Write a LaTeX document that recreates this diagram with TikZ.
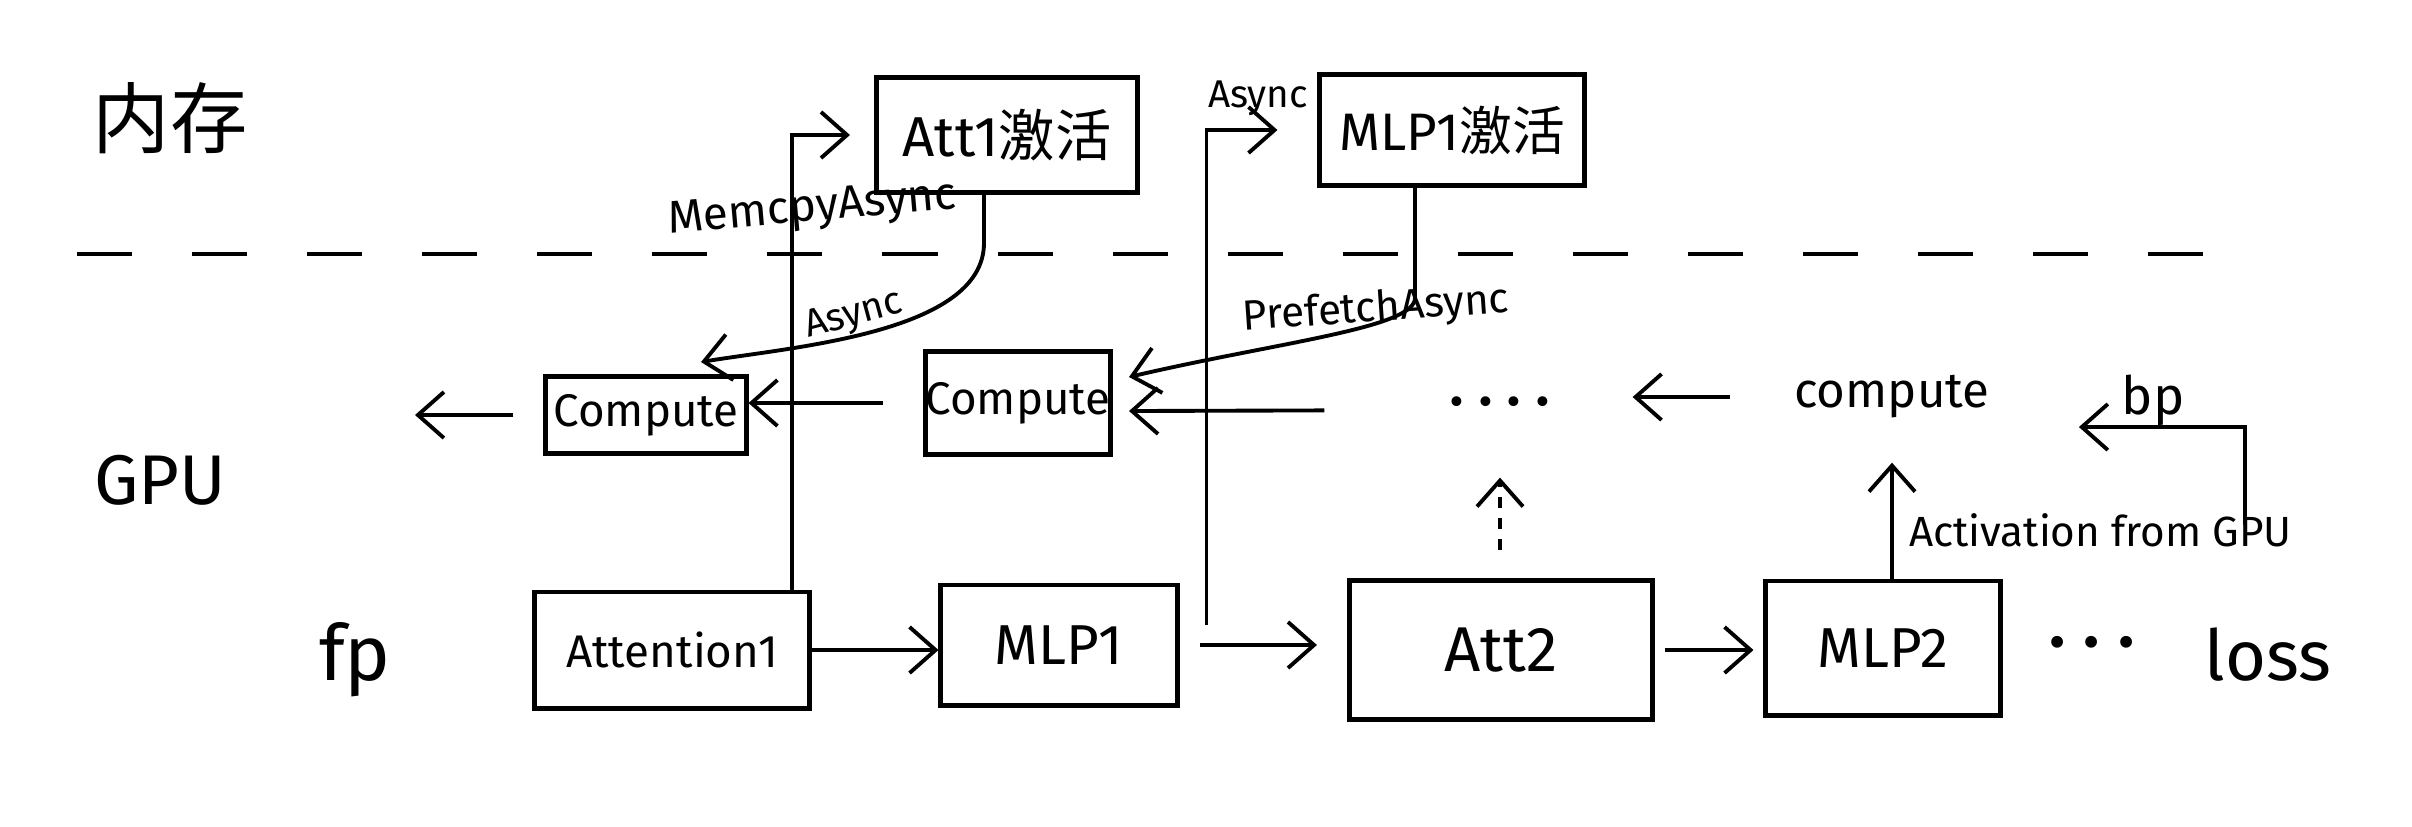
\documentclass[tikz,border=0pt]{standalone}
\usepackage{fontspec}
\setmainfont{Fira Sans}
\newfontfamily\cjk{Noto Sans CJK SC}
\usetikzlibrary{arrows.meta,calc}
\newcommand\myfs[1]{\fontsize{#1}{#1}\selectfont}
\tikzset{
  blk/.style={draw, line width=1.4pt, inner sep=0pt},
  conn/.style={line width=1.1pt, -{Straight Barb[length=2.6mm,width=4.6mm,line width=1.1pt]}},
  lbl/.style={inner sep=1pt},
  divider/.style={line width=1.2pt, dash pattern=on 0.55cm off 0.6cm}
}
\begin{document}
\begin{tikzpicture}[x=0.01cm,y=-0.01cm]
\useasboundingbox[fill=white] (0,0) rectangle (2412,826);
% divider
\draw[divider] (77,254) -- (2253,254);
% side labels
\node[lbl, font=\myfs{22}\cjk] (mem) at (170,118) {内存};
\node[lbl, font=\myfs{20}] (gpu) at (160,480) {GPU};
\node[lbl, font=\myfs{22}] (fp) at (355,660) {fp};
% fp row
\node[blk, minimum width=2.75cm, minimum height=1.16cm, font=\myfs{13}] (att1) at (672,650) {Attention1};
\node[blk, minimum width=2.36cm, minimum height=1.2cm, font=\myfs{16}] (mlp1) at (1059,645) {MLP1};
\node[blk, minimum width=3.03cm, minimum height=1.39cm, font=\myfs{18}] (att2) at (1501,650) {Att2};
\node[blk, minimum width=2.34cm, minimum height=1.34cm, font=\myfs{16}] (mlp2) at (1883,648) {MLP2};
\node[lbl, font=\myfs{24}] (fdots) at (2092,652) {·\,·\,·};
\node[lbl, font=\myfs{20}] (loss) at (2268,655) {loss};
% memory row
\node[blk, minimum width=2.61cm, minimum height=1.15cm, font=\myfs{16}] (a1act) at (1007,135) {Att1{\cjk 激活}};
\node[blk, minimum width=2.64cm, minimum height=1.11cm, font=\myfs{15}] (m1act) at (1452,130) {MLP1{\cjk 激活}};
% GPU compute row
\node[blk, minimum width=2.0cm, minimum height=0.77cm, font=\myfs{13}] (c1) at (646,415) {Compute};
\node[blk, minimum width=1.77cm, minimum height=1.03cm, font=\myfs{13}] (c2) at (1018,403) {Compute};
\node[lbl, font=\myfs{20}] (dots2) at (1500,410) {·\,·\,·\,·};
\node[lbl, font=\myfs{14}] (comp) at (1892,397) {compute};
\node[lbl, font=\myfs{15}] (bp) at (2153,400) {bp};
% fp arrows
\draw[conn] (att1.east) -- (att1.east -| mlp1.west);
\draw[conn, shorten <=0.2cm, shorten >=0.3cm] (mlp1.east) -- (mlp1.east -| att2.west);
\draw[conn, shorten <=0.1cm, shorten >=0.1cm] (att2.east) -- (att2.east -| mlp2.west);
% offload arrows to memory
\draw[conn, shorten >=0.24cm] ([xshift=-0.2cm]att1.north east) |- (a1act.west);
\node[lbl, font=\myfs{13}, rotate=5] (memcpy) at (812,210) {MemcpyAsync};
\draw[conn, shorten >=0.4cm] ([xshift=0.27cm,yshift=0.2cm]mlp1.east) |- (m1act.west);
\node[lbl, font=\myfs{11}] (async2) at (1258,98) {Async};
% prefetch back to GPU
\draw[conn] ([xshift=-0.23cm]a1act.south) -- ++(0,48)
  .. controls +(0,90) and +(90,-15) .. ([xshift=0.55cm,yshift=0.12cm]c1.north);
\node[lbl, font=\myfs{11}, rotate=15] (async1) at (854,316) {Async};
\draw[conn] ([xshift=-0.37cm]m1act.south) -- ++(0,110)
  .. controls +(0,30) and +(150,-35) .. ([xshift=0.16cm,yshift=0.26cm]c2.east);
\node[lbl, font=\myfs{12}, rotate=4] (prefetch) at (1376,310) {PrefetchAsync};
% backward chain
\draw[conn, shorten <=1.2cm] (dots2.west) -- ([xshift=0.16cm,yshift=-0.08cm]c2.east);
\draw[conn, shorten <=0.4cm] (c2.west) -- (c2.west -| c1.east);
\coordinate (outl) at (415,415);
\draw[conn, shorten <=0.3cm] (c1.west) -- (outl);
\draw[conn, shorten <=0.6cm, shorten >=0.77cm] (comp.west) -- (comp.west -| dots2.east);
\draw[conn, shorten >=0.4cm] (mlp2.north -| comp.south) -- (comp.south);
\node[lbl, font=\myfs{12}, anchor=west] (actgpu) at (1905,530) {Activation from GPU};
\draw[conn, dashed, shorten <=0.28cm, shorten >=0.5cm] (att2.north -| dots2.south) -- (dots2.south);
\coordinate (bpfrom) at (2245,525);
\draw[conn] (bpfrom) |- ([xshift=0.85cm,yshift=-0.3cm]comp.east);
\end{tikzpicture}
\end{document}
